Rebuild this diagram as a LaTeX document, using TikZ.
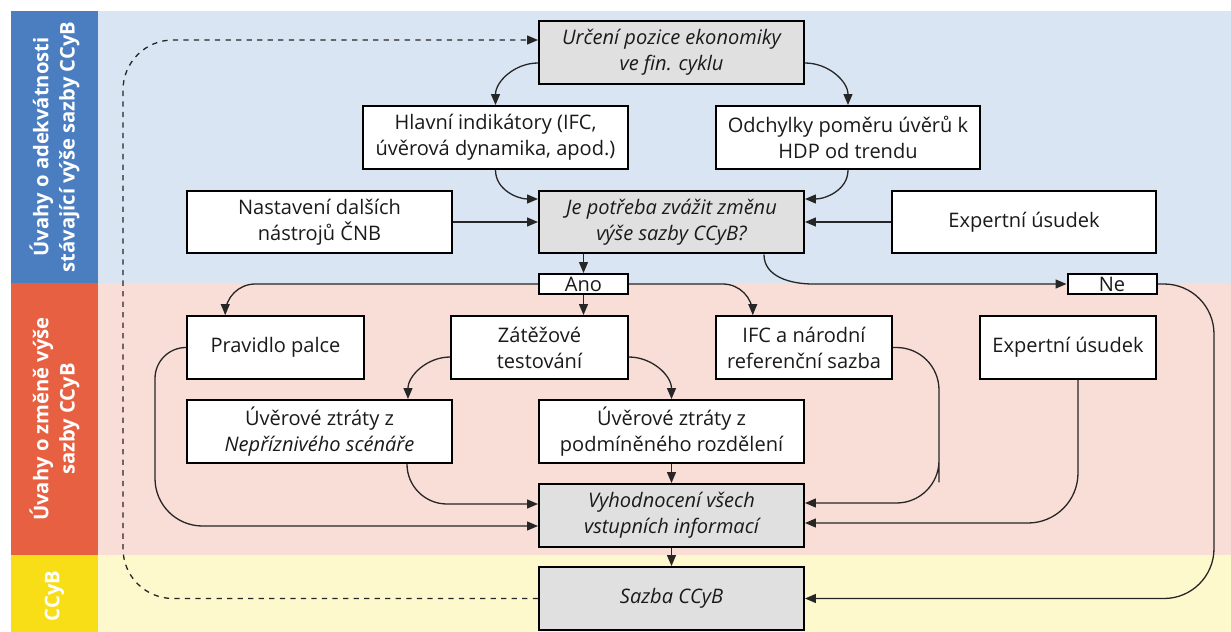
\documentclass[tikz,border=0pt]{standalone}
\usepackage{fontspec}
\setmainfont{Open Sans}
\usetikzlibrary{arrows.meta}

\definecolor{sideblue}{RGB}{74,126,193}
\definecolor{bandblue}{RGB}{218,229,243}
\definecolor{sidered}{RGB}{232,96,66}
\definecolor{bandred}{RGB}{249,222,216}
\definecolor{sideyellow}{RGB}{248,222,22}
\definecolor{bandyellow}{RGB}{254,248,205}
\definecolor{boxgrey}{RGB}{224,224,224}
\definecolor{ink}{RGB}{26,26,26}

\begin{document}
\begin{tikzpicture}[x=0.02cm, y=0.02cm, >={Triangle[length=0.22cm,width=0.18cm]},
    box/.style={draw=black, line width=0.04cm, fill=white, text=ink, align=center, inner sep=0pt,
        minimum height=1.26cm, font=\fontsize{11.4}{14.8}\selectfont},
    wide/.style={box, minimum width=5.3cm},
    narrow/.style={box, minimum width=3.53cm},
    grey/.style={wide, fill=boxgrey, font=\fontsize{11.4}{14.8}\selectfont\itshape},
    tag/.style={box, minimum width=1.78cm, minimum height=0.4cm},
    side/.style={rotate=90, text=white, align=center, font=\fontsize{11.5}{15}\selectfont\bfseries},
    link/.style={line width=0.026cm, draw=black!85}]

    \useasboundingbox (0,0) rectangle (1231,-632);

    \foreach \ytop/\ybot/\cdark/\clight in {11/283/sideblue/bandblue, 283/555/sidered/bandred, 555/632/sideyellow/bandyellow}
    {
        \fill [\cdark] (11,-\ytop) rectangle (98,-\ybot);
        \fill [\clight] (98,-\ytop) rectangle (1231,-\ybot);
    }

    \node [side] (sideone) at (54.5,-147) {Úvahy o adekvátnosti\\stávající výše sazby CCyB};
    \node [side] (sidetwo) at (54.5,-419) {Úvahy o změně výše\\sazby CCyB};
    \node [side] (sidethree) at (54.5,-596) {CCyB};

    \node [grey] (urceni) at (671.5,-52.5) {Určení pozice ekonomiky\\ve fin. cyklu};
    \node [wide] (hlavni) at (495.5,-137.5) {Hlavní indikátory (IFC,\\úvěrová dynamika, apod.)};
    \node [wide] (odchylky) at (848,-137.5) {Odchylky poměru úvěrů k\\HDP od trendu};
    \node [wide] (nastaveni) at (319.5,-222) {Nastavení dalších\\nástrojů ČNB};
    \node [grey] (potreba) at (671.5,-222) {Je potřeba zvážit změnu\\výše sazby CCyB?};
    \node [wide] (expertA) at (1024,-222) {Expertní úsudek};

    \node [tag] (ano) at (583.5,-284) {Ano};
    \node [tag] (ne) at (1112,-284) {Ne};

    \node [narrow] (pravidlo) at (275.5,-347.5) {Pravidlo palce};
    \node [narrow] (zatez) at (539.5,-347.5) {Zátěžové\\testování};
    \node [narrow] (ifc) at (804,-347.5) {IFC a národní\\referenční sazba};
    \node [narrow] (expertB) at (1068,-347.5) {Expertní úsudek};
    \node [wide] (ztratyA) at (319.5,-431.5) {Úvěrové ztráty z\\\textit{Nepříznivého scénáře}};
    \node [wide] (ztratyB) at (671.5,-431.5) {Úvěrové ztráty z\\podmíněného rozdělení};
    \node [grey] (vyhod) at (671.5,-515.5) {Vyhodnocení všech\\vstupních informací};
    \node [grey] (sazba) at (671.5,-598.5) {Sazba CCyB};

    \coordinate (loopcorner) at (123,-40);
    \draw [link,dashed,->,rounded corners=1cm] (sazba.west) -| (loopcorner) -- (loopcorner -| urceni.west);

    \draw [link,->] ([yshift=-0.21cm]urceni.west) to[out=180,in=90] (hlavni.north);
    \draw [link,->] ([yshift=-0.21cm]urceni.east) to[out=0,in=90] (odchylky.north);
    \draw [link,->] (hlavni.south) to[out=-90,in=180] ([yshift=0.46cm]potreba.west);
    \draw [link,->] (odchylky.south) to[out=-90,in=0] ([yshift=0.46cm]potreba.east);
    \draw [link,->] (nastaveni.east) -- (potreba.west);
    \draw [link,->] (expertA.west) -- (potreba.east);

    \draw [link,->] (ano.north |- potreba.south) -- (ano.north);
    \draw [link,->] ([xshift=-0.82cm]potreba.south east) to[out=-90,in=180] (813,-284) -- (ne.west);

    \draw [link,->] (ano.south) -- (ano.south |- zatez.north);
    \draw [link,->,rounded corners=0.6cm] (ano.west) -| ([xshift=0.78cm]pravidlo.north west);
    \draw [link,->,rounded corners=0.6cm] (ano.east) -| ([xshift=0.76cm]ifc.north west);

    \draw [link,->] ([yshift=-0.19cm]zatez.west) to[out=180,in=90] ([xshift=-0.9cm]ztratyA.north east);
    \draw [link,->] ([yshift=-0.19cm]zatez.east) to[out=0,in=90] (ztratyB.north);
    \draw [link,->] (ztratyB.south) -- (vyhod.north);

    \draw [link,->,rounded corners=0.8cm] ([xshift=-0.92cm]ztratyA.south east) |- ([yshift=0.23cm]vyhod.west);
    \draw [link,->,rounded corners=0.62cm] (pravidlo.west) -| (155,-440) [rounded corners=0.95cm] |- ([yshift=-0.21cm]vyhod.west);
    \draw [link,->,rounded corners=0.85cm] (ifc.east) -| (939,-440) |- ([yshift=0.25cm]vyhod.east);
    \draw [link,->,rounded corners=1cm] ([xshift=0.2cm]expertB.south) |- ([yshift=-0.15cm]vyhod.east);
    \draw [link,->,rounded corners=1cm] (ne.east) -| (1214,-440) |- (sazba.east);

    \draw [link,->] (vyhod.south) -- (sazba.north);

\end{tikzpicture}
\end{document}
